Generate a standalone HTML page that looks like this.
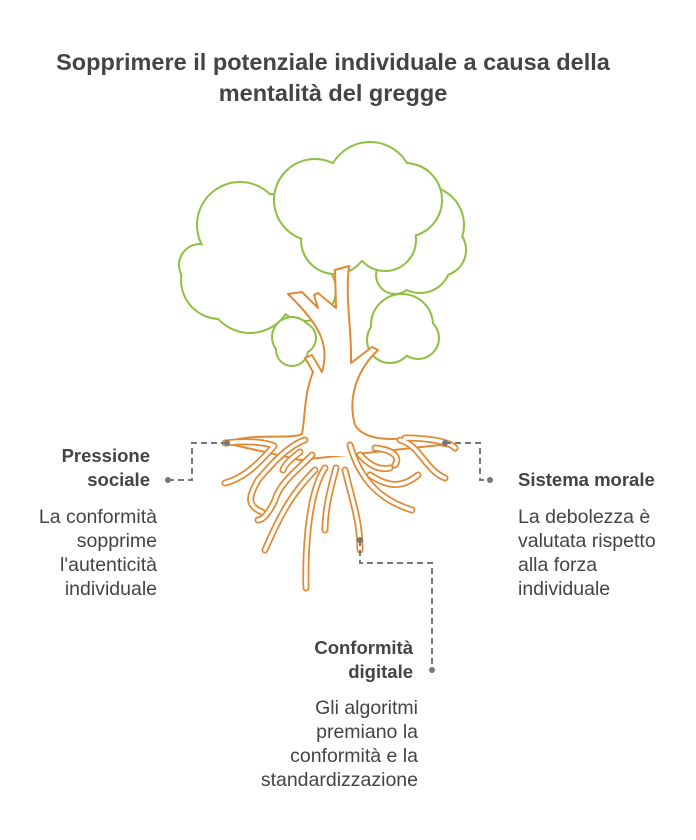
<!DOCTYPE html>
<html><head><meta charset="utf-8"><style>
html,body{margin:0;padding:0;background:#fff;}
svg{display:block;}
text{font-family:"Liberation Sans",sans-serif;fill:#444;}
.t{font-size:23.5px;font-weight:bold;}
.h{font-size:18.5px;font-weight:bold;}
.b{font-size:19.5px;}
</style></head><body>
<svg width="696" height="840" viewBox="0 0 696 840">
<text class="t" x="333" y="70" text-anchor="middle">Sopprimere il potenziale individuale a causa della</text>
<text class="t" x="333" y="101" text-anchor="middle">mentalità del gregge</text>

<g fill="none" stroke="#8fc043" stroke-width="4">
<circle cx="240" cy="225" r="42"/><circle cx="220" cy="280" r="38"/><circle cx="250" cy="290" r="42"/><circle cx="275" cy="235" r="40"/><circle cx="200" cy="265" r="20"/><circle cx="305" cy="290" r="30"/>
</g>
<g fill="#fff">
<circle cx="240" cy="225" r="42"/><circle cx="220" cy="280" r="38"/><circle cx="250" cy="290" r="42"/><circle cx="275" cy="235" r="40"/><circle cx="200" cy="265" r="20"/><circle cx="305" cy="290" r="30"/>
</g>
<g fill="none" stroke="#8fc043" stroke-width="4">
<circle cx="425" cy="225" r="38"/><circle cx="420" cy="262" r="30"/><circle cx="395" cy="275" r="18"/><circle cx="440" cy="250" r="25"/>
</g>
<g fill="#fff"><circle cx="425" cy="225" r="38"/><circle cx="420" cy="262" r="30"/><circle cx="395" cy="275" r="18"/><circle cx="440" cy="250" r="25"/></g>
<g fill="none" stroke="#8fc043" stroke-width="4">
<circle cx="315" cy="200" r="40"/><circle cx="370" cy="185" r="42"/><circle cx="405" cy="200" r="36"/><circle cx="335" cy="240" r="33"/><circle cx="385" cy="240" r="30"/><circle cx="360" cy="225" r="35"/>
</g>
<g fill="#fff"><circle cx="315" cy="200" r="40"/><circle cx="370" cy="185" r="42"/><circle cx="405" cy="200" r="36"/><circle cx="335" cy="240" r="33"/><circle cx="385" cy="240" r="30"/><circle cx="360" cy="225" r="35"/></g>
<g fill="none" stroke="#8fc043" stroke-width="4">
<circle cx="292" cy="337" r="19"/><circle cx="292" cy="350" r="15"/><circle cx="300" cy="338" r="15"/>
<circle cx="402" cy="325" r="30"/><circle cx="390" cy="340" r="22"/><circle cx="418" cy="338" r="20"/>
</g>
<g fill="#fff"><circle cx="292" cy="337" r="19"/><circle cx="292" cy="350" r="15"/><circle cx="300" cy="338" r="15"/>
<circle cx="402" cy="325" r="30"/><circle cx="390" cy="340" r="22"/><circle cx="418" cy="338" r="20"/></g>

<path d="M225,443 C250,432 290,440 302,434 C306,410 304,395 313,372 L305,358 L312,355 L322,372 C330,345 320,325 288,294 L302,292 L318,308 L314,295 L318,293 L336,308 L335,270 L349,266 C345,300 352,330 351,363 L372,347 L378,350 C355,372 348,400 355,425 C365,442 395,440 420,437 C440,437 452,445 455,448 L440,445 L300,460 Z" fill="#fff" stroke="#e08a35" stroke-width="2" stroke-linejoin="round"/>
<rect x="303" y="436" width="50" height="20" fill="#fff"/>

<g fill="none" stroke-linecap="round" stroke-linejoin="round">
<g stroke="#e08a35" stroke-width="7">
<path d="M225,443 C250,440 268,443 274,446 C260,462 245,478 225,483"/>
<path d="M305,440 C290,445 275,460 258,480 C250,495 245,505 262,512"/>
<path d="M300,452 C292,458 284,465 283,470"/>
<path d="M312,455 C300,468 280,482 275,500 C268,515 262,520 258,520"/>
<path d="M315,470 C295,490 282,510 265,550"/>
<path d="M325,468 C310,490 305,540 306,588"/>
<path d="M336,468 C330,490 325,510 325,530"/>
<path d="M345,470 C352,500 360,520 360,550"/>
<path d="M350,445 C360,480 380,500 412,510"/>
<path d="M360,455 C372,468 382,470 390,468"/>
<path d="M370,475 C385,485 400,490 418,475"/>
<path d="M375,448 C395,450 400,458 395,465"/>
<path d="M400,440 C420,445 425,470 445,478"/>
<path d="M405,438 C430,438 450,442 455,448"/>
</g>
<g stroke="#fff" stroke-width="3.5">
<path d="M225,443 C250,440 268,443 274,446 C260,462 245,478 225,483"/>
<path d="M305,440 C290,445 275,460 258,480 C250,495 245,505 262,512"/>
<path d="M300,452 C292,458 284,465 283,470"/>
<path d="M312,455 C300,468 280,482 275,500 C268,515 262,520 258,520"/>
<path d="M315,470 C295,490 282,510 265,550"/>
<path d="M325,468 C310,490 305,540 306,588"/>
<path d="M336,468 C330,490 325,510 325,530"/>
<path d="M345,470 C352,500 360,520 360,550"/>
<path d="M350,445 C360,480 380,500 412,510"/>
<path d="M360,455 C372,468 382,470 390,468"/>
<path d="M370,475 C385,485 400,490 418,475"/>
<path d="M375,448 C395,450 400,458 395,465"/>
<path d="M400,440 C420,445 425,470 445,478"/>
<path d="M405,438 C430,438 450,442 455,448"/>
</g></g>

<g fill="none" stroke="#777" stroke-width="2" stroke-dasharray="6,4">
<path d="M227,443 H192 V480 H168"/>
<path d="M445,443 H480 V480 H490"/>
<path d="M360,540 V563 H432 V670"/>
</g>
<g fill="#777">
<circle cx="227" cy="443" r="3"/><circle cx="168" cy="480" r="3"/>
<circle cx="445" cy="443" r="3"/><circle cx="490" cy="480" r="3"/>
<circle cx="360" cy="540" r="3"/><circle cx="432" cy="670" r="3"/>
</g>

<text class="h" x="150" y="462" text-anchor="end">Pressione</text>
<text class="h" x="150" y="486" text-anchor="end">sociale</text>
<text class="b" x="157" y="523" text-anchor="end">La conformità</text>
<text class="b" x="157" y="547" text-anchor="end">sopprime</text>
<text class="b" x="157" y="571" text-anchor="end">l'autenticità</text>
<text class="b" x="157" y="595" text-anchor="end">individuale</text>
<text class="h" x="518" y="486">Sistema morale</text>
<text class="b" x="518" y="523">La debolezza è</text>
<text class="b" x="518" y="547">valutata rispetto</text>
<text class="b" x="518" y="571">alla forza</text>
<text class="b" x="518" y="595">individuale</text>

<text class="h" x="413" y="654" text-anchor="end">Conformità</text>
<text class="h" x="413" y="678" text-anchor="end">digitale</text>
<text class="b" x="418" y="714" text-anchor="end">Gli algoritmi</text>
<text class="b" x="418" y="738" text-anchor="end">premiano la</text>
<text class="b" x="418" y="762" text-anchor="end">conformità e la</text>
<text class="b" x="418" y="786" text-anchor="end">standardizzazione</text>
</svg>
</body></html>
